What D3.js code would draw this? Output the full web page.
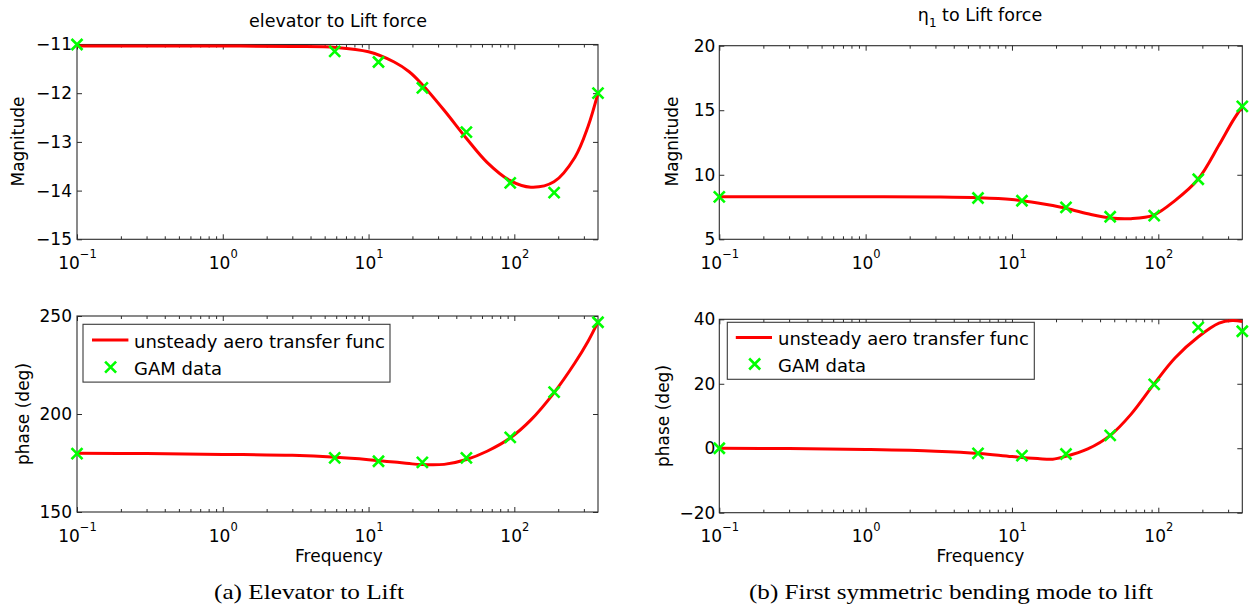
<!DOCTYPE html>
<html>
<head>
<meta charset="utf-8">
<script src="https://cdn.jsdelivr.net/npm/d3@7"></script>
<style>
  body { margin: 0; background: #fff; }
  svg { display: block; }
</style>
</head>
<body>
<div id="chart"></div>
<script>
// frequencies of the GAM samples and of the fitted transfer function curve
const gamFreq = [0.1, 5.86, 11.7, 23.4, 46.9, 93.75, 187.5, 375];
const fitFreq = [0.1, 0.3, 1, 3, 6, 10, 15, 19, 23, 33, 47, 65, 93, 130, 187, 260, 320, 375];

// (a) elevator to lift
const elevMagGam   = [-11.0, -11.14, -11.36, -11.89, -12.8, -13.84, -14.04, -12.0];
const elevMagFit   = [-11.03, -11.03, -11.03, -11.04, -11.06, -11.15, -11.36, -11.56, -11.8, -12.35, -12.93, -13.42, -13.79, -13.93, -13.82, -13.32, -12.69, -12.0];
const elevPhaseGam = [179.8, 177.6, 175.9, 175.3, 177.6, 188.1, 211.2, 246.8];
const elevPhaseFit = [180, 179.8, 179.4, 178.9, 177.9, 176.7, 175.5, 174.7, 174.2, 174.3, 176.8, 181, 187.6, 197, 210.8, 226, 237, 247];

// (b) first symmetric bending mode to lift
const eta1MagGam   = [8.29, 8.2, 7.99, 7.47, 6.75, 6.83, 9.65, 15.3];
const eta1MagFit   = [8.3, 8.3, 8.3, 8.28, 8.22, 8.08, 7.82, 7.62, 7.42, 6.98, 6.65, 6.6, 6.88, 8.0, 9.65, 12.3, 14.1, 15.3];
const eta1PhaseGam = [0, -1.6, -2.3, -1.8, 4.0, 19.8, 37.5, 36.3];
const eta1PhaseFit = [0, -0.1, -0.4, -0.9, -1.6, -2.6, -3.2, -3.4, -2.6, -0.2, 4.0, 10.5, 19.8, 28, 34.5, 38.8, 39.6, 39.3];

const magTicksA = [-15, -14, -13, -12, -11];
const magTicksB = [5, 10, 15, 20];
const phaseTicksA = [150, 200, 250];
const phaseTicksB = [-20, 0, 20, 40];
const freqTicks = [0.1, 1, 10, 100];
const freqExp = ["\u22121", "0", "1", "2"];

const legendLabels = ["unsteady aero transfer func", "GAM data"];

const FONT = "DejaVu Sans";
const width = 1251, height = 610;

const svg = d3.select("#chart").append("svg")
  .attr("width", width)
  .attr("height", height);
svg.append("rect").attr("width", width).attr("height", height).attr("fill", "#fff");

const xMinor = [];
[0.1, 1, 10, 100].forEach(d => { for (let k = 2; k <= 9; k++) if (d * k <= 375) xMinor.push(d * k); });

const panels = [
  {x0: 77, x1: 598, y0: 44.5, y1: 239.3, ydom: [-15, -11], yticks: magTicksA, fit: elevMagFit, gam: elevMagGam,
   ylabel: "Magnitude", ylx: 24, yly: 141.5, ypad: 5},
  {x0: 719.3, x1: 1242.3, y0: 45.7, y1: 239.3, ydom: [5, 20], yticks: magTicksB, fit: eta1MagFit, gam: eta1MagGam,
   ylabel: "Magnitude", ylx: 677.5, yly: 141.5, ypad: 4},
  {x0: 77, x1: 598, y0: 316, y1: 512, ydom: [150, 250], yticks: phaseTicksA, fit: elevPhaseFit, gam: elevPhaseGam,
   ylabel: "phase (deg)", ylx: 29, yly: 414, ypad: 5, xlabel: 339,
   legend: {bx: 83, by: 324.3, bw: 307, bh: 57.8, lx0: 92, lx1: 128.4, ly: 340, tx: 134, t1: 348.2, t2: 374.8, mx: 110.6, my: 367.2}},
  {x0: 719.3, x1: 1242.3, y0: 319.3, y1: 512.7, ydom: [-20, 40], yticks: phaseTicksB, fit: eta1PhaseFit, gam: eta1PhaseGam,
   ylabel: "phase (deg)", ylx: 669, yly: 416, ypad: 4, xlabel: 980.5,
   legend: {bx: 727.3, by: 322.3, bw: 307, bh: 57, lx0: 735.8, lx1: 772, ly: 337.6, tx: 778, t1: 345, t2: 371.6, mx: 754.7, my: 364}}
];

const cross = "M-5.5,-5.5L5.5,5.5M-5.5,5.5L5.5,-5.5";

panels.forEach(p => {
  const x = d3.scaleLog().domain([0.1, 375]).range([p.x0, p.x1]);
  const y = d3.scaleLinear().domain(p.ydom).range([p.y1, p.y0]);
  const g = svg.append("g");

  // box
  g.append("rect")
    .attr("x", p.x0).attr("y", p.y0)
    .attr("width", p.x1 - p.x0).attr("height", p.y1 - p.y0)
    .attr("fill", "none").attr("stroke", "#2b2b2b").attr("stroke-width", 1.1);

  const styleAxis = sel => {
    sel.select(".domain").remove();
    sel.selectAll("line").attr("stroke", "#2b2b2b").attr("stroke-width", 1);
    sel.selectAll("text").attr("font-family", FONT).attr("font-size", 17).attr("fill", "#000");
  };

  // x axis bottom with superscript labels
  const xb = g.append("g").attr("transform", `translate(0,${p.y1})`)
    .call(d3.axisBottom(x).tickValues(freqTicks).tickSize(-5).tickSizeOuter(0).tickFormat(""))
    .call(styleAxis);
  xb.selectAll(".tick text").each(function(d, i) {
    const t = d3.select(this).attr("y", 29.6).attr("dy", null).attr("text-anchor", "middle");
    t.append("tspan").text("10");
    t.append("tspan").attr("dy", -11).attr("font-size", 11.5).text(freqExp[i]);
  });
  g.append("g").attr("transform", `translate(0,${p.y1})`)
    .call(d3.axisBottom(x).tickValues(xMinor).tickSize(-3).tickSizeOuter(0).tickFormat(""))
    .call(styleAxis);
  g.append("g").attr("transform", `translate(0,${p.y0})`)
    .call(d3.axisTop(x).tickValues(freqTicks).tickSize(-5).tickSizeOuter(0).tickFormat(""))
    .call(styleAxis);
  g.append("g").attr("transform", `translate(0,${p.y0})`)
    .call(d3.axisTop(x).tickValues(xMinor).tickSize(-3).tickSizeOuter(0).tickFormat(""))
    .call(styleAxis);

  // y axes
  g.append("g").attr("transform", `translate(${p.x0},0)`)
    .call(d3.axisLeft(y).tickValues(p.yticks).tickSize(-5).tickPadding(p.ypad).tickSizeOuter(0).tickFormat(d3.format("d")))
    .call(styleAxis);
  g.append("g").attr("transform", `translate(${p.x1},0)`)
    .call(d3.axisRight(y).tickValues(p.yticks).tickSize(-5).tickSizeOuter(0).tickFormat(""))
    .call(styleAxis);

  // y label
  g.append("text")
    .attr("transform", `translate(${p.ylx},${p.yly}) rotate(-90)`)
    .attr("text-anchor", "middle")
    .attr("font-family", FONT).attr("font-size", 17)
    .text(p.ylabel);

  if (p.xlabel) {
    g.append("text")
      .attr("x", p.xlabel).attr("y", 562)
      .attr("text-anchor", "middle")
      .attr("font-family", FONT).attr("font-size", 17)
      .text("Frequency");
  }

  // fitted curve
  const line = d3.line()
    .x((d, i) => x(fitFreq[i]))
    .y(d => y(d))
    .curve(d3.curveCatmullRom.alpha(0.5));
  g.append("path")
    .datum(p.fit)
    .attr("d", line)
    .attr("fill", "none")
    .attr("stroke", "#ff0000")
    .attr("stroke-width", 3);

  // GAM markers
  g.selectAll(".gam")
    .data(p.gam)
    .enter().append("path")
    .attr("class", "gam")
    .attr("transform", (d, i) => `translate(${x(gamFreq[i])},${y(d)})`)
    .attr("d", cross)
    .attr("stroke", "#00ff00")
    .attr("stroke-width", 2.6)
    .attr("fill", "none");

  if (p.legend) {
    const L = p.legend;
    const lg = g.append("g");
    lg.append("rect")
      .attr("x", L.bx).attr("y", L.by).attr("width", L.bw).attr("height", L.bh)
      .attr("fill", "#fff").attr("stroke", "#3a3a3a").attr("stroke-width", 1.1);
    lg.append("line")
      .attr("x1", L.lx0).attr("x2", L.lx1).attr("y1", L.ly).attr("y2", L.ly)
      .attr("stroke", "#ff0000").attr("stroke-width", 3);
    lg.append("path")
      .attr("transform", `translate(${L.mx},${L.my})`)
      .attr("d", cross)
      .attr("stroke", "#00ff00").attr("stroke-width", 2.6).attr("fill", "none");
    lg.selectAll("text.lt")
      .data(legendLabels)
      .enter().append("text")
      .attr("class", "lt")
      .attr("x", L.tx)
      .attr("y", (d, i) => i === 0 ? L.t1 : L.t2)
      .attr("font-family", FONT).attr("font-size", 18)
      .text(d => d);
  }
});

// titles
svg.append("text")
  .attr("x", 338).attr("y", 27)
  .attr("text-anchor", "middle")
  .attr("font-family", FONT).attr("font-size", 17.5)
  .text("elevator to Lift force");

const t2 = svg.append("text")
  .attr("x", 980).attr("y", 21.4)
  .attr("text-anchor", "middle")
  .attr("font-family", FONT).attr("font-size", 17.5);
t2.append("tspan").text("η");
t2.append("tspan").attr("dy", 6).attr("font-size", 12).text("1");
t2.append("tspan").attr("dy", -6).text(" to Lift force");

// sub-figure captions
const captions = [
  {text: "(a)  Elevator to Lift", x: 309, len: 190},
  {text: "(b)  First symmetric bending mode to lift", x: 951, len: 404}
];
svg.selectAll("text.cap")
  .data(captions)
  .enter().append("text")
  .attr("class", "cap")
  .attr("x", d => d.x).attr("y", 599)
  .attr("text-anchor", "middle")
  .attr("font-family", "Liberation Serif").attr("font-size", 21)
  .attr("textLength", d => d.len)
  .attr("lengthAdjust", "spacingAndGlyphs")
  .text(d => d.text);
</script>
</body>
</html>
